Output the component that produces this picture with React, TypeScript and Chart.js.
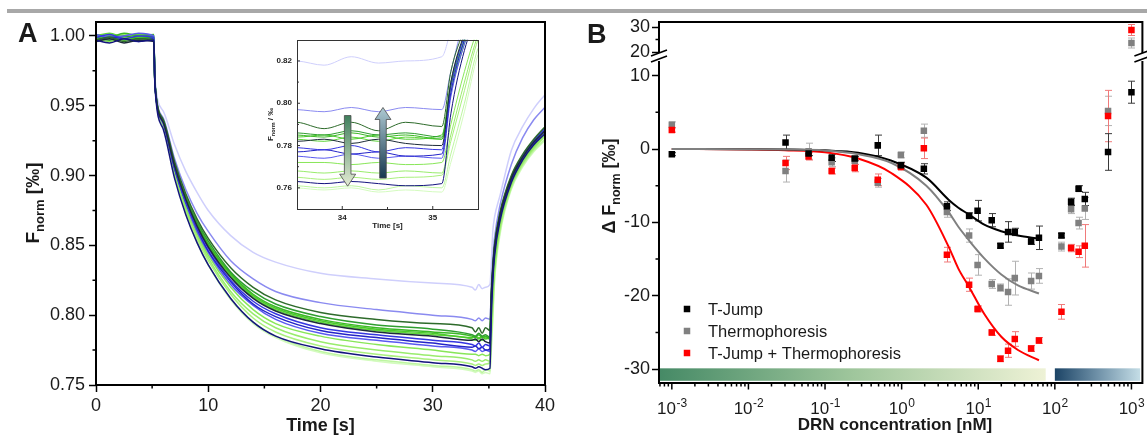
import React, { useEffect, useRef } from 'react';
import { Chart, registerables } from 'chart.js';

Chart.register(...registerables);

const FONT = '"Liberation Sans", Arial, Helvetica, sans-serif';
const TXT = '#1a1a1a';
Chart.defaults.font.family = FONT;

// ---------------- Panel A : F_norm traces ----------------
const timeS = [0, 1.2, 2.5, 3.8, 5.15, 5.25, 6, 7, 8, 9, 10, 12, 14, 16, 20, 25, 30, 33.5, 33.8, 34.1, 34.4, 34.7, 35.1, 35.2, 35.35, 35.5, 36, 37, 38, 39, 40];

const traceLavender = [1.000, 0.999, 1.001, 0.999, 1.000, 0.970, 0.946, 0.922, 0.903, 0.888, 0.875, 0.857, 0.845, 0.838, 0.830, 0.826, 0.823, 0.820, 0.818, 0.822, 0.819, 0.820, 0.822, 0.835, 0.860, 0.870, 0.886, 0.918, 0.935, 0.948, 0.958];
const traceLightBlue = [0.998, 1.000, 0.999, 1.001, 0.999, 0.967, 0.941, 0.912, 0.890, 0.873, 0.860, 0.839, 0.826, 0.817, 0.809, 0.804, 0.800, 0.797, 0.796, 0.798, 0.796, 0.798, 0.797, 0.815, 0.840, 0.855, 0.879, 0.908, 0.927, 0.940, 0.949];
const tracePaleGreen1 = [0.999, 1.000, 0.998, 1.000, 0.999, 0.966, 0.935, 0.900, 0.873, 0.852, 0.836, 0.811, 0.794, 0.784, 0.773, 0.767, 0.763, 0.760, 0.759, 0.760, 0.758, 0.759, 0.758, 0.772, 0.796, 0.823, 0.858, 0.890, 0.906, 0.917, 0.925];
const tracePaleGreen2 = [1.000, 0.998, 1.000, 0.998, 0.999, 0.966, 0.935, 0.900, 0.873, 0.853, 0.836, 0.812, 0.795, 0.785, 0.774, 0.768, 0.764, 0.761, 0.760, 0.761, 0.759, 0.761, 0.760, 0.776, 0.800, 0.826, 0.860, 0.891, 0.907, 0.918, 0.926];
const traceLightGreen1 = [0.999, 1.001, 0.998, 1.000, 0.999, 0.966, 0.936, 0.901, 0.875, 0.855, 0.839, 0.815, 0.798, 0.788, 0.778, 0.772, 0.768, 0.765, 0.764, 0.765, 0.764, 0.765, 0.766, 0.782, 0.806, 0.830, 0.862, 0.892, 0.908, 0.919, 0.928];
const traceLightGreen2 = [1.000, 0.998, 1.001, 0.999, 1.000, 0.966, 0.936, 0.902, 0.876, 0.857, 0.841, 0.817, 0.801, 0.791, 0.781, 0.775, 0.771, 0.768, 0.767, 0.768, 0.767, 0.768, 0.767, 0.785, 0.810, 0.832, 0.864, 0.893, 0.909, 0.920, 0.929];
const traceLightGreen3 = [0.998, 0.996, 0.999, 0.997, 0.998, 0.965, 0.937, 0.904, 0.878, 0.859, 0.843, 0.820, 0.804, 0.794, 0.785, 0.779, 0.775, 0.772, 0.772, 0.771, 0.772, 0.771, 0.772, 0.790, 0.815, 0.835, 0.866, 0.894, 0.910, 0.921, 0.930];
const traceGreen1 = [1.000, 1.002, 0.999, 1.001, 1.000, 0.966, 0.938, 0.907, 0.883, 0.865, 0.850, 0.828, 0.813, 0.804, 0.795, 0.789, 0.786, 0.783, 0.782, 0.784, 0.782, 0.784, 0.783, 0.805, 0.828, 0.845, 0.870, 0.896, 0.912, 0.923, 0.932];
const traceGreen2 = [0.998, 1.000, 0.997, 0.999, 0.998, 0.966, 0.939, 0.907, 0.884, 0.865, 0.851, 0.829, 0.814, 0.805, 0.796, 0.790, 0.787, 0.784, 0.785, 0.783, 0.785, 0.783, 0.785, 0.808, 0.830, 0.846, 0.871, 0.897, 0.913, 0.923, 0.933];
const traceGreen3 = [1.001, 0.999, 1.002, 1.000, 1.001, 0.966, 0.939, 0.908, 0.884, 0.866, 0.851, 0.830, 0.815, 0.806, 0.797, 0.791, 0.788, 0.785, 0.784, 0.786, 0.784, 0.785, 0.783, 0.808, 0.830, 0.847, 0.872, 0.898, 0.913, 0.924, 0.933];
const traceGreen4 = [0.999, 0.997, 1.000, 0.998, 0.999, 0.966, 0.939, 0.908, 0.885, 0.867, 0.853, 0.831, 0.817, 0.808, 0.799, 0.793, 0.790, 0.786, 0.785, 0.787, 0.785, 0.786, 0.784, 0.810, 0.832, 0.848, 0.873, 0.899, 0.914, 0.925, 0.934];
const traceBlue1 = [1.001, 0.999, 1.000, 1.002, 1.000, 0.966, 0.937, 0.905, 0.880, 0.860, 0.845, 0.822, 0.807, 0.797, 0.787, 0.782, 0.778, 0.775, 0.774, 0.776, 0.774, 0.775, 0.774, 0.803, 0.828, 0.845, 0.870, 0.897, 0.913, 0.924, 0.933];
const traceBlue2 = [0.997, 0.999, 0.998, 0.996, 0.998, 0.965, 0.938, 0.905, 0.881, 0.862, 0.846, 0.824, 0.808, 0.799, 0.789, 0.784, 0.780, 0.777, 0.778, 0.776, 0.777, 0.775, 0.776, 0.805, 0.830, 0.846, 0.871, 0.897, 0.913, 0.923, 0.932];
const traceBlue3 = [0.999, 1.001, 0.998, 1.000, 0.999, 0.966, 0.938, 0.906, 0.881, 0.863, 0.848, 0.825, 0.810, 0.801, 0.791, 0.786, 0.782, 0.779, 0.778, 0.780, 0.777, 0.779, 0.778, 0.808, 0.832, 0.848, 0.872, 0.898, 0.914, 0.925, 0.934];
const traceDarkGreen = [0.997, 0.999, 0.996, 0.998, 0.997, 0.966, 0.940, 0.910, 0.887, 0.869, 0.855, 0.834, 0.820, 0.811, 0.802, 0.797, 0.794, 0.791, 0.788, 0.791, 0.787, 0.791, 0.789, 0.815, 0.835, 0.850, 0.874, 0.900, 0.915, 0.926, 0.935];
const traceNearBlack = [0.996, 0.998, 0.995, 0.997, 0.996, 0.965, 0.938, 0.907, 0.883, 0.864, 0.849, 0.827, 0.812, 0.803, 0.794, 0.788, 0.785, 0.782, 0.783, 0.781, 0.783, 0.781, 0.780, 0.810, 0.833, 0.848, 0.872, 0.898, 0.913, 0.924, 0.932];
const traceNavy = [0.997, 0.995, 0.998, 0.996, 0.997, 0.964, 0.933, 0.898, 0.872, 0.852, 0.836, 0.812, 0.795, 0.785, 0.776, 0.770, 0.766, 0.763, 0.762, 0.763, 0.762, 0.761, 0.762, 0.795, 0.825, 0.842, 0.868, 0.895, 0.911, 0.922, 0.930];

// drawn bottom -> top
const tracesA = [
  { values: traceLavender, color: '#cfcffc' },
  { values: tracePaleGreen1, color: '#d4fbbf' },
  { values: tracePaleGreen2, color: '#bdf6a0' },
  { values: traceLightGreen1, color: '#aaf07e' },
  { values: traceLightGreen2, color: '#99ec6c' },
  { values: traceLightGreen3, color: '#88e658' },
  { values: traceLightBlue, color: '#8a8af0' },
  { values: traceGreen1, color: '#5fd63a' },
  { values: traceGreen2, color: '#4cca2c' },
  { values: traceGreen3, color: '#3cb826' },
  { values: traceGreen4, color: '#2f9e2f' },
  { values: traceBlue1, color: '#5a5af0' },
  { values: traceBlue2, color: '#2424c8' },
  { values: traceBlue3, color: '#3636e0' },
  { values: traceDarkGreen, color: '#2e6b2b' },
  { values: traceNearBlack, color: '#1d2b3a' },
  { values: traceNavy, color: '#14147e' },
];

const xTicksA = [0, 10, 20, 30, 40];
const xMinorA = [5, 15, 25, 35];
const yTicksA = [0.75, 0.8, 0.85, 0.9, 0.95, 1.0];
const yMinorA = [0.775, 0.825, 0.875, 0.925, 0.975];

const insetXTicks = [34, 35];
const insetXMinor = [34.5];
const insetYTicks = [0.76, 0.78, 0.8, 0.82];
const insetYMinor = [0.77, 0.79, 0.81];

const insetArrows = [
  { t: 34.06, from: 0.7942, to: 0.7608, tail: '#3f7f5c', tip: '#e4ecd4' },
  { t: 34.45, from: 0.7646, to: 0.798, tail: '#16384f', tip: '#aecad3' },
];

// ---------------- Panel B : ΔF_norm vs DRN ----------------
const concB = [0.001, 0.0305, 0.061, 0.122, 0.244, 0.488, 0.977, 1.95, 3.9, 7.6, 9.8, 15, 19.5, 24.5, 30, 49, 62, 122, 163, 204, 246, 495, 1000];
const dTJump = [-0.7, 0.9, -0.6, -1.2, -1.3, 0.5, -2.2, -2.7, -7.8, -9.1, -8.4, -9.7, -13.2, -11.3, -11.3, -12.6, -12.1, -11.8, -7.2, -5.4, -6.8, -0.4, 7.75];
const dTJumpErr = [0.2, 1.0, 0.3, 0.5, 0.3, 1.4, 0.4, 0.7, 0.6, 0.4, 1.4, 0.9, 0.3, 1.4, 0.5, 0.4, 1.6, 0.3, 0.5, 0.4, 0.9, 2.5, 1.5];
const dThermo = [3.3, -3.0, -0.3, -1.8, -1.6, -4.6, -0.8, 2.5, -8.6, -11.8, -15.8, -18.4, -18.9, -19.5, -17.6, -18.0, -17.3, -13.3, -8.2, -10.1, -8.1, 5.2, 23.6];
const dThermoErr = [0.4, 1.5, 1.1, 0.6, 0.5, 0.6, 0.4, 0.9, 0.7, 0.9, 1.4, 0.6, 0.5, 1.8, 2.3, 1.1, 1.0, 0.6, 0.6, 0.8, 1.5, 2.0, 2.0];
const dBoth = [2.6, -1.9, -1.0, -3.0, -2.6, -4.2, -2.4, 0.1, -14.4, -18.5, -21.8, -25.0, -28.6, -27.5, -25.9, -27.2, -26.1, -22.2, -13.5, -14.0, -13.2, 4.5, 28.8];
const dBothErr = [0.3, 0.9, 0.5, 0.4, 0.5, 0.8, 0.5, 1.4, 1.0, 0.9, 0.4, 0.4, 0.4, 0.9, 1.0, 0.4, 0.4, 1.0, 0.5, 0.8, 2.9, 3.5, 2.2];

const fitConc = [0.001, 0.01, 0.03, 0.1, 0.27, 0.74, 2.1, 4.1, 5.5, 7.5, 12, 20, 33, 62];
const fitTJump = [0, -0.02, -0.05, -0.18, -0.5, -1.6, -3.9, -6.9, -8.0, -8.9, -10.3, -11.2, -11.8, -12.2];
const fitThermo = [0, -0.02, -0.06, -0.2, -0.7, -1.9, -5.0, -8.6, -10.6, -12.4, -14.9, -17.1, -18.6, -19.7];
const fitBoth = [0, -0.05, -0.15, -0.45, -1.3, -3.3, -7.6, -13.3, -16.3, -18.7, -22.5, -25.6, -27.4, -28.8];

const yTicksB = [-30, -20, -10, 0, 10];
const yTicksBTop = [20, 30];
const yMinorB = [-25, -15, -5, 5];
const yMinorBTop = [25];
const xDecadesB = [-3, -2, -1, 0, 1, 2, 3];
const legendB = ['T-Jump', 'Thermophoresis', 'T-Jump + Thermophoresis'];

const BREAK = 15;

const seriesB = [
  { values: dThermo, errors: dThermoErr, color: '#808080', errColor: '#b2b2b2', order: 3 },
  { values: dBoth, errors: dBothErr, color: '#ff0000', errColor: '#f07a7a', order: 2 },
  { values: dTJump, errors: dTJumpErr, color: '#000000', errColor: '#3a3a3a', order: 1 },
];
const legendColors = ['#000000', '#808080', '#ff0000'];

const colorBars = [
  { from: 0.0007, to: 76, top: -29.9, bottom: -31.6, stops: [[0, '#468a66'], [0.5, '#9fc69c'], [1, '#eef2d6']] },
  { from: 100, to: 1300, top: -29.9, bottom: -31.6, stops: [[0, '#1c4466'], [0.5, '#6f91a8'], [1, '#c4dde6']] },
];

// ---------------- helpers ----------------
function richText(ctx: any, parts: any[], cx: number, cy: number, rot = 0) {
  ctx.save();
  ctx.translate(cx, cy);
  ctx.rotate(rot);
  ctx.textAlign = 'left';
  ctx.textBaseline = 'alphabetic';
  const fonts = parts.map((p) => `${p.bold ? 'bold ' : ''}${p.size}px ${FONT}`);
  let w = 0;
  parts.forEach((p, i) => { ctx.font = fonts[i]; w += ctx.measureText(p.t).width; });
  let x = -w / 2;
  parts.forEach((p, i) => {
    ctx.font = fonts[i];
    ctx.fillText(p.t, x, p.dy || 0);
    x += ctx.measureText(p.t).width;
  });
  ctx.restore();
}

function drawArrow(ctx: any, x: number, yTail: number, yTip: number, cTail: string, cTip: string) {
  const dir = Math.sign(yTip - yTail);
  const headLen = 12, headHalf = 8, shaftHalf = 3.3;
  const yb = yTip - dir * headLen;
  const g = ctx.createLinearGradient(0, yTail, 0, yTip);
  g.addColorStop(0, cTail);
  g.addColorStop(1, cTip);
  ctx.beginPath();
  ctx.moveTo(x - shaftHalf, yTail);
  ctx.lineTo(x - shaftHalf, yb);
  ctx.lineTo(x - headHalf, yb);
  ctx.lineTo(x, yTip);
  ctx.lineTo(x + headHalf, yb);
  ctx.lineTo(x + shaftHalf, yb);
  ctx.lineTo(x + shaftHalf, yTail);
  ctx.closePath();
  ctx.fillStyle = g;
  ctx.fill();
  ctx.strokeStyle = '#4a4a4a';
  ctx.lineWidth = 0.8;
  ctx.stroke();
}

function makeTraceDatasets(width: number) {
  const n = tracesA.length;
  return tracesA.map((tr, i) => ({
    type: 'line',
    data: timeS.map((t, j) => ({ x: t, y: tr.values[j] })),
    borderColor: tr.color,
    backgroundColor: tr.color,
    borderWidth: width,
    pointRadius: 0,
    fill: false,
    cubicInterpolationMode: 'monotone',
    order: n - i,
  }));
}

// ---------------- plugins ----------------
const panelAPlugin = {
  id: 'panelA',
  afterDraw(chart: any) {
    const { ctx, chartArea: a, scales } = chart;
    ctx.save();
    ctx.strokeStyle = '#000';
    ctx.lineWidth = 2;
    ctx.strokeRect(a.left, a.top, a.right - a.left, a.bottom - a.top);
    ctx.lineWidth = 1.5;
    ctx.beginPath();
    yMinorA.forEach((v) => { const p = scales.y.getPixelForValue(v); ctx.moveTo(a.left - 3.5, p); ctx.lineTo(a.left, p); });
    xMinorA.forEach((v) => { const p = scales.x.getPixelForValue(v); ctx.moveTo(p, a.bottom); ctx.lineTo(p, a.bottom + 3.5); });
    ctx.stroke();
    ctx.fillStyle = TXT;
    richText(ctx, [
      { t: 'F', size: 19, bold: true },
      { t: 'norm', size: 13, bold: true, dy: 5 },
      { t: ' [‰]', size: 19, bold: true },
    ], 39, 203, -Math.PI / 2);
    richText(ctx, [{ t: 'Time [s]', size: 18, bold: true }], (a.left + a.right) / 2, 431);
    ctx.font = `bold 27px ${FONT}`;
    ctx.textAlign = 'left';
    ctx.textBaseline = 'alphabetic';
    ctx.fillText('A', 18, 42);
    ctx.restore();
  },
};

const insetPlugin = {
  id: 'inset',
  beforeDatasetsDraw(chart: any) {
    const { ctx, chartArea: a } = chart;
    ctx.save();
    ctx.fillStyle = '#fff';
    ctx.fillRect(a.left, a.top, a.right - a.left, a.bottom - a.top);
    ctx.restore();
  },
  afterDraw(chart: any) {
    const { ctx, chartArea: a, scales } = chart;
    ctx.save();
    insetArrows.forEach((ar) => drawArrow(ctx, scales.x.getPixelForValue(ar.t), scales.y.getPixelForValue(ar.from), scales.y.getPixelForValue(ar.to), ar.tail, ar.tip));
    ctx.strokeStyle = '#333';
    ctx.lineWidth = 1;
    ctx.strokeRect(Math.round(a.left) + 0.5, Math.round(a.top) + 0.5, Math.round(a.right - a.left), Math.round(a.bottom - a.top));
    ctx.beginPath();
    insetYTicks.forEach((v) => { const p = scales.y.getPixelForValue(v); ctx.moveTo(a.left, p); ctx.lineTo(a.left + 3, p); });
    insetYMinor.forEach((v) => { const p = scales.y.getPixelForValue(v); ctx.moveTo(a.left, p); ctx.lineTo(a.left + 2, p); });
    insetXTicks.forEach((v) => { const p = scales.x.getPixelForValue(v); ctx.moveTo(p, a.bottom); ctx.lineTo(p, a.bottom - 3); });
    insetXMinor.forEach((v) => { const p = scales.x.getPixelForValue(v); ctx.moveTo(p, a.bottom); ctx.lineTo(p, a.bottom - 2); });
    ctx.stroke();
    ctx.fillStyle = '#222';
    richText(ctx, [
      { t: 'F', size: 8, bold: true },
      { t: 'norm', size: 5.5, bold: true, dy: 2 },
      { t: ' / ‰', size: 8, bold: true },
    ], 23, (a.top + a.bottom) / 2, -Math.PI / 2);
    richText(ctx, [{ t: 'Time [s]', size: 8, bold: true }], (a.left + a.right) / 2, 198);
    ctx.restore();
  },
};

const panelBPlugin = {
  id: 'panelB',
  beforeDatasetsDraw(chart: any) {
    const { ctx, scales } = chart;
    const xs = scales.x, ys = scales.y, yt = scales.yTop;
    ctx.save();
    colorBars.forEach((bar) => {
      const x0 = xs.getPixelForValue(bar.from), x1 = xs.getPixelForValue(bar.to);
      const y0 = ys.getPixelForValue(bar.top), y1 = ys.getPixelForValue(bar.bottom);
      const g = ctx.createLinearGradient(x0, 0, x1, 0);
      bar.stops.forEach((s: any) => g.addColorStop(s[0], s[1]));
      ctx.fillStyle = g;
      ctx.fillRect(x0, y0, x1 - x0, y1 - y0);
    });
    seriesB.forEach((s) => {
      ctx.strokeStyle = s.errColor;
      ctx.lineWidth = 1;
      ctx.beginPath();
      concB.forEach((c, i) => {
        const v = s.values[i], e = s.errors[i];
        const sc = v > BREAK ? yt : ys;
        const px = Math.round(xs.getPixelForValue(c)) + 0.5;
        const lo = sc.getPixelForValue(v - e), hi = sc.getPixelForValue(v + e);
        ctx.moveTo(px, lo); ctx.lineTo(px, hi);
        ctx.moveTo(px - 3.5, lo); ctx.lineTo(px + 3.5, lo);
        ctx.moveTo(px - 3.5, hi); ctx.lineTo(px + 3.5, hi);
      });
      ctx.stroke();
    });
    ctx.restore();
  },
  afterDraw(chart: any) {
    const { ctx, chartArea: a, scales } = chart;
    const xs = scales.x, ys = scales.y, yt = scales.yTop;
    const yb = yt.bottom;
    ctx.save();
    // frame with axis breaks
    ctx.strokeStyle = '#000';
    ctx.lineWidth = 2;
    ctx.beginPath();
    ctx.moveTo(a.left, yb - 4); ctx.lineTo(a.left, a.top); ctx.lineTo(a.right, a.top); ctx.lineTo(a.right, yb - 4);
    ctx.moveTo(a.right, yb + 4); ctx.lineTo(a.right, a.bottom); ctx.lineTo(a.left, a.bottom); ctx.lineTo(a.left, yb + 4);
    ctx.stroke();
    ctx.lineWidth = 1.6;
    ctx.beginPath();
    [a.left, a.right].forEach((x) => {
      ctx.moveTo(x - 8, yb - 1); ctx.lineTo(x + 8, yb - 7);
      ctx.moveTo(x - 8, yb + 5); ctx.lineTo(x + 8, yb - 1);
    });
    ctx.stroke();
    // minor y ticks
    ctx.lineWidth = 1.5;
    ctx.beginPath();
    yMinorB.forEach((v) => { const p = ys.getPixelForValue(v); ctx.moveTo(a.left - 3.5, p); ctx.lineTo(a.left, p); });
    yMinorBTop.forEach((v) => { const p = yt.getPixelForValue(v); ctx.moveTo(a.left - 3.5, p); ctx.lineTo(a.left, p); });
    // log x ticks
    for (let n = -4; n <= 3; n++) {
      for (let k = 1; k <= 9; k++) {
        const v = k * Math.pow(10, n);
        if (v < xs.min || v > xs.max) continue;
        const p = xs.getPixelForValue(v);
        ctx.moveTo(p, a.bottom);
        ctx.lineTo(p, a.bottom + (k === 1 ? 6.5 : 3.5));
      }
    }
    ctx.stroke();
    // x tick labels 10^n
    ctx.fillStyle = TXT;
    ctx.textAlign = 'left';
    ctx.textBaseline = 'alphabetic';
    xDecadesB.forEach((n) => {
      const p = xs.getPixelForValue(Math.pow(10, n));
      const base = '10', ex = String(n);
      ctx.font = `17px ${FONT}`;
      const wb = ctx.measureText(base).width;
      ctx.font = `12px ${FONT}`;
      const we = ctx.measureText(ex).width;
      const x0 = p - (wb + we) / 2;
      ctx.font = `17px ${FONT}`;
      ctx.fillText(base, x0, 414);
      ctx.font = `12px ${FONT}`;
      ctx.fillText(ex, x0 + wb + 0.5, 407);
    });
    // legend
    legendB.forEach((label, i) => {
      const cy = 309 + i * 22;
      ctx.fillStyle = legendColors[i];
      ctx.fillRect(117 - 3.25, cy - 3.25, 6.5, 6.5);
      ctx.fillStyle = TXT;
      ctx.font = `16.5px ${FONT}`;
      ctx.fillText(label, 138, cy + 6);
    });
    // titles
    ctx.fillStyle = TXT;
    richText(ctx, [{ t: 'DRN concentration [nM]', size: 17, bold: true }], 325, 430);
    richText(ctx, [
      { t: 'Δ F', size: 18, bold: true },
      { t: 'norm', size: 12.5, bold: true, dy: 5 },
      { t: ' [‰]', size: 18, bold: true },
    ], 45, 186, -Math.PI / 2);
    ctx.font = `bold 27px ${FONT}`;
    ctx.textAlign = 'left';
    ctx.fillText('B', 17, 43);
    ctx.restore();
  },
};

const tickFont = { size: 18, family: FONT };
const tickGrid = { display: true, drawOnChartArea: false, drawTicks: true, tickLength: 7, tickWidth: 1.5, tickColor: '#000' };

export default function App() {
  const refA = useRef<HTMLCanvasElement>(null);
  const refI = useRef<HTMLCanvasElement>(null);
  const refB = useRef<HTMLCanvasElement>(null);

  useEffect(() => {
    const chartA = new Chart(refA.current as any, {
      type: 'line',
      data: { datasets: makeTraceDatasets(1.5) as any },
      options: {
        animation: false, responsive: false, events: [],
        layout: { padding: { left: 0, top: 22, right: 25, bottom: 0 } },
        plugins: { legend: { display: false }, tooltip: { enabled: false } },
        scales: {
          x: {
            type: 'linear', min: 0, max: 40,
            afterBuildTicks: (s: any) => { s.ticks = xTicksA.map((v) => ({ value: v })); },
            afterFit: (s: any) => { s.height = 50; },
            ticks: { font: tickFont, color: TXT, padding: 3, maxRotation: 0, autoSkip: false },
            grid: tickGrid, border: { display: false },
          },
          y: {
            type: 'linear', min: 0.75, max: 1.01,
            afterBuildTicks: (s: any) => { s.ticks = yTicksA.map((v) => ({ value: v })); },
            afterFit: (s: any) => { s.width = 96; },
            ticks: { font: tickFont, color: TXT, padding: 4, autoSkip: false, callback: (v: any) => Number(v).toFixed(2) },
            grid: tickGrid, border: { display: false },
          },
        },
      } as any,
      plugins: [panelAPlugin],
    });

    const chartI = new Chart(refI.current as any, {
      type: 'line',
      data: { datasets: makeTraceDatasets(1.0) as any },
      options: {
        animation: false, responsive: false, events: [],
        layout: { padding: { left: 0, top: 9, right: 12, bottom: 0 } },
        plugins: { legend: { display: false }, tooltip: { enabled: false } },
        scales: {
          x: {
            type: 'linear', min: 33.5, max: 35.5,
            afterBuildTicks: (s: any) => { s.ticks = insetXTicks.map((v) => ({ value: v })); },
            afterFit: (s: any) => { s.height = 26; },
            ticks: { font: { size: 8, weight: 'bold', family: FONT }, color: '#222', padding: 4, maxRotation: 0, autoSkip: false },
            grid: { display: false, drawTicks: false }, border: { display: false },
          },
          y: {
            type: 'linear', min: 0.75, max: 0.83,
            afterBuildTicks: (s: any) => { s.ticks = insetYTicks.map((v) => ({ value: v })); },
            afterFit: (s: any) => { s.width = 47; },
            ticks: { font: { size: 8, weight: 'bold', family: FONT }, color: '#222', padding: 5, autoSkip: false, callback: (v: any) => Number(v).toFixed(2) },
            grid: { display: false, drawTicks: false }, border: { display: false },
          },
        },
      } as any,
      plugins: [insetPlugin],
    });

    const pointSets: any[] = [];
    seriesB.forEach((s) => {
      const base = {
        type: 'scatter', pointStyle: 'rect', pointRadius: 4.6, borderWidth: 0,
        backgroundColor: s.color, borderColor: s.color, order: s.order, showLine: false,
      };
      pointSets.push({ ...base, yAxisID: 'y', data: concB.map((c, i) => ({ x: c, y: s.values[i] > BREAK ? null : s.values[i] })) });
      pointSets.push({ ...base, yAxisID: 'yTop', data: concB.map((c, i) => ({ x: c, y: s.values[i] > BREAK ? s.values[i] : null })) });
    });
    const fitSets = [
      { vals: fitThermo, color: '#808080' },
      { vals: fitTJump, color: '#000000' },
      { vals: fitBoth, color: '#ff0000' },
    ].map((f) => ({
      type: 'line', yAxisID: 'y', data: fitConc.map((c, i) => ({ x: c, y: f.vals[i] })),
      borderColor: f.color, borderWidth: 2, pointRadius: 0, fill: false,
      cubicInterpolationMode: 'monotone', order: 10,
    }));

    const chartB = new Chart(refB.current as any, {
      type: 'scatter',
      data: { datasets: [...fitSets, ...pointSets] as any },
      options: {
        animation: false, responsive: false, events: [],
        layout: { padding: { left: 0, top: 22, right: 2, bottom: 0 } },
        plugins: { legend: { display: false }, tooltip: { enabled: false } },
        scales: {
          x: {
            type: 'logarithmic', min: 0.00068, max: 1390,
            afterFit: (s: any) => { s.height = 52; },
            ticks: { display: false }, grid: { display: false, drawTicks: false }, border: { display: false },
          },
          y: {
            type: 'linear', position: 'left', stack: 'v', stackWeight: 326, min: -31.9, max: 12.55,
            afterBuildTicks: (s: any) => { s.ticks = yTicksB.map((v) => ({ value: v })); },
            afterFit: (s: any) => { s.width = 89; },
            ticks: { font: tickFont, color: TXT, padding: 2, autoSkip: false, callback: (v: any) => String(v) },
            grid: tickGrid, border: { display: false },
          },
          yTop: {
            type: 'linear', position: 'left', stack: 'v', stackWeight: 35, min: 18, max: 32,
            afterBuildTicks: (s: any) => { s.ticks = yTicksBTop.map((v) => ({ value: v })); },
            afterFit: (s: any) => { s.width = 89; },
            ticks: { font: tickFont, color: TXT, padding: 2, autoSkip: false, callback: (v: any) => String(v) },
            grid: tickGrid, border: { display: false },
          },
        },
      } as any,
      plugins: [panelBPlugin],
    });

    return () => { chartA.destroy(); chartI.destroy(); chartB.destroy(); };
  }, []);

  return (
    <div style={{ position: 'absolute', left: 0, top: 0, width: 1147, height: 435, background: '#fff', overflow: 'hidden' }}>
      <div style={{ position: 'absolute', left: 7, top: 9, width: 1140, height: 4, background: '#a8a8a8' }} />
      <canvas ref={refA} width={570} height={435} style={{ position: 'absolute', left: 0, top: 0 }} />
      <canvas ref={refI} width={240} height={205} style={{ position: 'absolute', left: 250, top: 30 }} />
      <canvas ref={refB} width={577} height={435} style={{ position: 'absolute', left: 570, top: 0 }} />
    </div>
  );
}
